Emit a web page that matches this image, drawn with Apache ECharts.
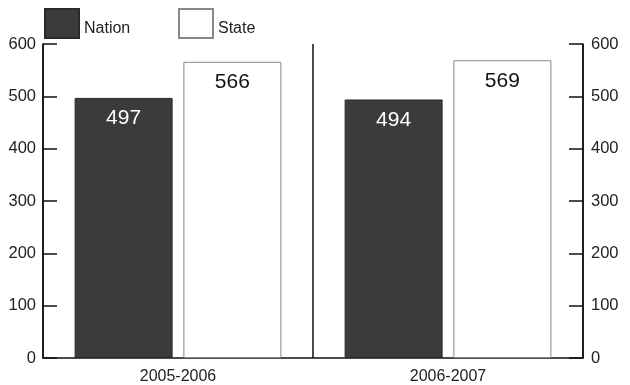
<!DOCTYPE html>
<html><head><meta charset="utf-8">
<script src="https://cdn.jsdelivr.net/npm/echarts@6/dist/echarts.min.js"></script>
<style>html,body{margin:0;padding:0;background:#fff}#c{width:630px;height:385px}</style>
</head><body><div id="c"></div>
<script>
const categories = ['2005-2006', '2006-2007'];
const nationValues = [497, 494];
const stateValues = [566, 569];
const yTicks = [0, 100, 200, 300, 400, 500, 600];

const FONT = 'Arial, "Liberation Sans", sans-serif';
const chart = echarts.init(document.getElementById('c'), null, {renderer: 'canvas'});
const yAxisBase = {
  type: 'value', min: yTicks[0], max: yTicks[yTicks.length - 1], interval: 100,
  axisLine: {show: true, lineStyle: {color: '#111', width: 1.5}},
  axisTick: {show: true, inside: true, length: 14, lineStyle: {color: '#111', width: 1.5}},
  splitLine: {show: false},
  axisLabel: {color: '#222', fontSize: 16.5, fontFamily: FONT}
};
const legendText = {color: '#222', fontSize: 16, fontFamily: FONT,
  rich: {t: {color: '#222', fontSize: 16, fontFamily: FONT, padding: [10, 0, 0, 0]}}};
chart.setOption({
  animation: false,
  backgroundColor: '#fff',
  grid: {left: 43, right: 47, top: 44, bottom: 27, containLabel: false},
  legend: [
    {left: 44, top: 8, padding: 0, itemWidth: 34, itemHeight: 29, itemGap: 0, icon: 'rect',
     data: ['Nation'], formatter: '{t|{name}}', textStyle: legendText},
    {left: 178, top: 8, padding: 0, itemWidth: 34, itemHeight: 29, itemGap: 0, icon: 'rect',
     data: ['State'], formatter: '{t|{name}}', textStyle: legendText}
  ],
  xAxis: {
    type: 'category', data: categories,
    axisLine: {show: true, lineStyle: {color: '#111', width: 1.5}},
    axisTick: {show: false},
    splitLine: {show: true, lineStyle: {color: '#111', width: 1.5}},
    axisLabel: {color: '#222', fontSize: 16, fontFamily: FONT, margin: 11}
  },
  yAxis: [
    Object.assign({}, yAxisBase, {position: 'left', axisLabel: Object.assign({}, yAxisBase.axisLabel, {margin: 7})}),
    Object.assign({}, yAxisBase, {position: 'right', axisLabel: Object.assign({}, yAxisBase.axisLabel, {margin: 8})})
  ],
  series: [
    {name: 'Nation', type: 'bar', data: nationValues, barWidth: 98, barGap: '11%',
     itemStyle: {color: '#3b3b3b', borderColor: '#2a2a2a', borderWidth: 1},
     label: {show: true, position: 'insideTop', distance: 10, color: '#fff', fontSize: 21, fontFamily: FONT}},
    {name: 'State', type: 'bar', data: stateValues, barWidth: 98, barGap: '11%',
     itemStyle: {color: '#fff', borderColor: '#888', borderWidth: 1},
     label: {show: true, position: 'insideTop', distance: 10, color: '#111', fontSize: 21, fontFamily: FONT}}
  ]
});
</script></body></html>
